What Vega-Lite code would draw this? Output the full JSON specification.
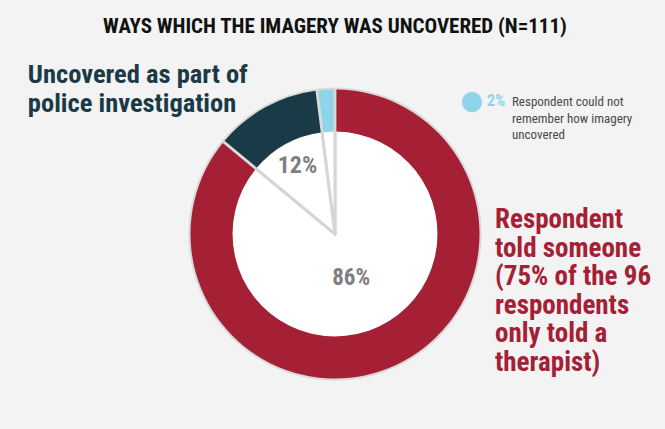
{
  "$schema": "https://vega.github.io/schema/vega-lite/v6.json",
  "autosize": "none",
  "width": 660,
  "height": 380,
  "padding": {"left": 5, "top": 44, "right": 0, "bottom": 5},
  "background": "#f2f3f2",
  "config": {"view": {"stroke": null}},
  "title": {
    "text": "WAYS WHICH THE IMAGERY WAS UNCOVERED (N=111)",
    "font": "'Roboto Condensed', 'Noto Sans Condensed', 'Open Sans Condensed', Roboto, sans-serif",
    "fontSize": 21,
    "fontWeight": "bold",
    "color": "#111111",
    "anchor": "middle",
    "frame": "group",
    "baseline": "alphabetic",
    "offset": -10
  },
  "data": {
    "values": [
      {"category": "Respondent told someone", "pct": 86, "order": 1, "label": "86%"},
      {"category": "Uncovered as part of police investigation", "pct": 12, "order": 2, "label": "12%"},
      {"category": "Respondent could not remember how imagery uncovered", "pct": 2, "order": 3, "label": "2%"}
    ]
  },
  "encoding": {
    "theta": {"field": "pct", "type": "quantitative", "stack": true},
    "order": {"field": "order", "type": "quantitative"}
  },
  "layer": [
    {
      "mark": {"type": "arc", "radius": 146.5, "radius2": 0, "fill": "#d8d9d8"}
    },
    {
      "mark": {"type": "arc", "radius": 104, "radius2": 0, "fill": "#ffffff", "stroke": "#d6d6d6", "strokeWidth": 3, "strokeJoin": "round"}
    },
    {
      "mark": {"type": "arc", "radius": 144.5, "radius2": 102.5, "padAngle": 0.016},
      "encoding": {
        "color": {
          "field": "category",
          "type": "nominal",
          "scale": {
            "domain": ["Respondent told someone", "Uncovered as part of police investigation", "Respondent could not remember how imagery uncovered"],
            "range": ["#a52035", "#1b3a47", "#8fd4ea"]
          },
          "legend": null
        }
      }
    },
    {
      "mark": {"type": "text", "radius": 78, "font": "'Roboto Condensed', 'Noto Sans Condensed', 'Open Sans Condensed', Roboto, sans-serif", "fontSize": 24, "fontWeight": "bold", "color": "#7e7f83", "baseline": "middle", "align": "center"},
      "encoding": {"text": {"condition": {"test": "datum.order == 2", "field": "label"}, "value": ""}}
    },
    {
      "mark": {"type": "text", "radius": 45, "dx": -3, "dy": 3, "font": "'Roboto Condensed', 'Noto Sans Condensed', 'Open Sans Condensed', Roboto, sans-serif", "fontSize": 23, "fontWeight": "bold", "color": "#7e7f83", "baseline": "middle", "align": "center"},
      "encoding": {"text": {"condition": {"test": "datum.order == 1", "field": "label"}, "value": ""}}
    },
    {
      "mark": {"type": "text", "radius": 100, "dx": -259, "dy": -63, "align": "left", "baseline": "alphabetic", "lineHeight": 29, "font": "'Roboto Condensed', 'Noto Sans Condensed', 'Open Sans Condensed', Roboto, sans-serif", "fontSize": 26.5, "fontWeight": "bold", "color": "#1b3a47"},
      "encoding": {"text": {"condition": {"test": "datum.order == 2", "value": ["Uncovered as part of", "police investigation"]}, "value": ""}}
    },
    {
      "mark": {"type": "text", "radius": 60, "dx": 134.5, "dy": -60.3, "align": "left", "baseline": "alphabetic", "lineHeight": 28.6, "font": "'Roboto Condensed', 'Noto Sans Condensed', 'Open Sans Condensed', Roboto, sans-serif", "fontSize": 27, "fontWeight": "bold", "color": "#a52035"},
      "encoding": {"text": {"condition": {"test": "datum.order == 1", "value": ["Respondent", "told someone", "(75% of the 96", "respondents", "only told a", "therapist)"]}, "value": ""}}
    },
    {
      "mark": {"type": "text", "radius": 160, "dx": 147, "dy": 27, "align": "center", "baseline": "middle", "font": "DejaVu Sans", "fontSize": 26, "color": "#8fd4ea"},
      "encoding": {"text": {"condition": {"test": "datum.order == 3", "value": "●"}, "value": ""}}
    },
    {
      "mark": {"type": "text", "radius": 160, "dx": 162, "dy": 31.5, "align": "left", "baseline": "alphabetic", "font": "'Roboto Condensed', 'Noto Sans Condensed', 'Open Sans Condensed', Roboto, sans-serif", "fontSize": 16, "fontWeight": "bold", "color": "#8fd4ea"},
      "encoding": {"text": {"condition": {"test": "datum.order == 3", "field": "label"}, "value": ""}}
    },
    {
      "mark": {"type": "text", "radius": 160, "dx": 187, "dy": 31.7, "align": "left", "baseline": "alphabetic", "lineHeight": 16.5, "font": "'Roboto Condensed', 'Noto Sans Condensed', 'Open Sans Condensed', Roboto, sans-serif", "fontSize": 13, "color": "#4a4a4a"},
      "encoding": {"text": {"condition": {"test": "datum.order == 3", "value": ["Respondent could not", "remember how imagery", "uncovered"]}, "value": ""}}
    }
  ]
}
